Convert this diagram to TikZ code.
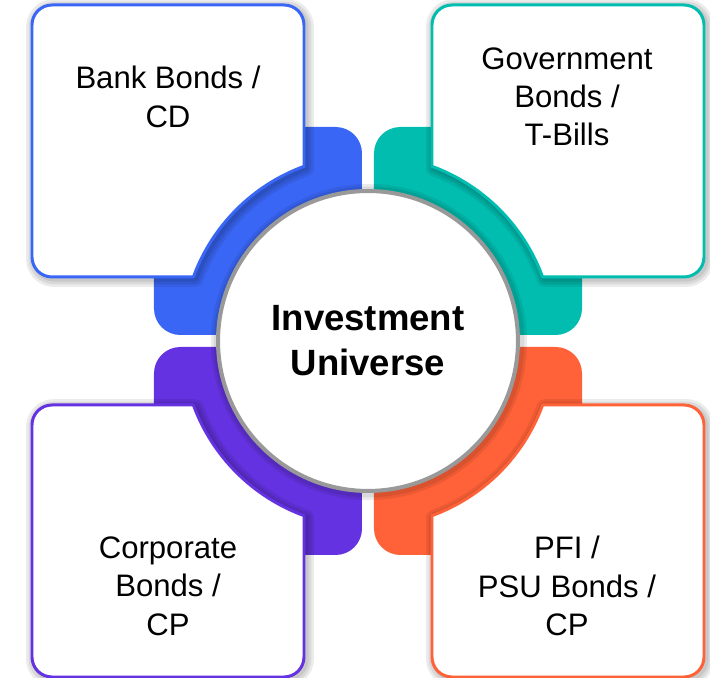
\documentclass[tikz,border=0pt]{standalone}
\usepackage{fontspec}
\setmainfont{Liberation Sans}

\definecolor{bankblue}{HTML}{3A66F6}
\definecolor{govteal}{HTML}{00BDB0}
\definecolor{corppurple}{HTML}{6432E0}
\definecolor{psuorange}{HTML}{FF6238}
\definecolor{ringgray}{HTML}{999999}

\tikzset{
  boxtext/.style={align=center, font=\fontsize{17.7}{21.8}\selectfont},
  hubtext/.style={align=center, font=\bfseries\fontsize{20.8}{25.5}\selectfont},
}

% one card, top right quarter, corner cut by the ring
\newcommand{\cardpath}{(64,174.6) -- (64,316) arc (180:90:20) -- (316,336) arc (90:0:20)
  -- (336,84) arc (0:-90:20) -- (174.6,64) arc (20.12:69.88:186) -- cycle}

\begin{document}
\begin{tikzpicture}[x=0.02cm, y=0.02cm, line join=round]
\useasboundingbox (-368,-337) rectangle (342,341);

% coloured quarters with their cards
\foreach \sx/\sy/\col in {-1/1/bankblue, 1/1/govteal, -1/-1/corppurple, 1/-1/psuorange}{
  \begin{scope}[xscale=\sx, yscale=\sy]
    \fill[\col, rounded corners=15] (6,6) rectangle (214,214);
  \end{scope}
  % soft shadow
  \begin{scope}[shift={(2,-2)}, xscale=\sx, yscale=\sy]
    \foreach \w in {9,6,3}
      \draw[black, opacity=0.08, line width=\w pt] \cardpath;
  \end{scope}
  \begin{scope}[xscale=\sx, yscale=\sy]
    \draw[draw=\col, fill=white, line width=1.7pt] \cardpath;
  \end{scope}
}

% centre
\foreach \w in {8,5}
  \draw[black, opacity=0.08, line width=\w pt] (1,-1) circle (151);
\node[hubtext, circle, fill=white, draw=ringgray, line width=2.3pt, minimum size=6cm] (hub) at (0,0) {Investment\\Universe};

% card labels
\node[boxtext] (bank) at (-200,244) {Bank Bonds /\\CD};
\node[boxtext] (govt) at (199,244) {Government\\Bonds /\\T-Bills};
\node[boxtext] (corp) at (-200,-245) {Corporate\\Bonds /\\CP};
\node[boxtext] (psu) at (199,-245) {PFI /\\PSU Bonds /\\CP};

\end{tikzpicture}
\end{document}
